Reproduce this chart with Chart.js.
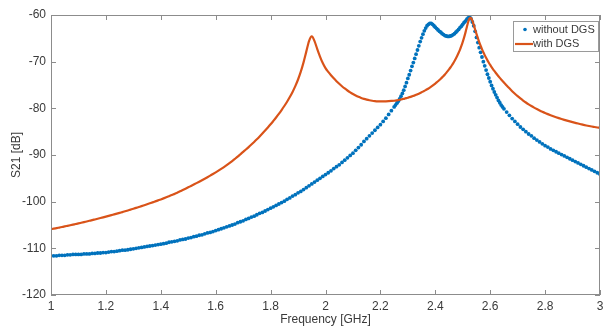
<!DOCTYPE html>
<html>
<head>
<meta charset="utf-8">
<style>
  html, body { margin: 0; padding: 0; background: #fff; }
  #wrap { width: 604px; height: 329px; }
</style>
<script src="https://cdn.jsdelivr.net/npm/chart.js@4.4.1/dist/chart.umd.min.js"></script>
</head>
<body>
<div id="wrap"><canvas id="s21Chart"></canvas></div>
<script>
// ==========================
// DATA
// ==========================
// sweep is finer around the two resonances
const freq = [
  1.00,1.01,1.02,1.03,1.04,1.05,1.06,1.07,1.08,1.09,
  1.10,1.11,1.12,1.13,1.14,1.15,1.16,1.17,1.18,1.19,
  1.20,1.21,1.22,1.23,1.24,1.25,1.26,1.27,1.28,1.29,
  1.30,1.31,1.32,1.33,1.34,1.35,1.36,1.37,1.38,1.39,
  1.40,1.41,1.42,1.43,1.44,1.45,1.46,1.47,1.48,1.49,
  1.50,1.51,1.52,1.53,1.54,1.55,1.56,1.57,1.58,1.59,
  1.60,1.61,1.62,1.63,1.64,1.65,1.66,1.67,1.68,1.69,
  1.70,1.71,1.72,1.73,1.74,1.75,1.76,1.77,1.78,1.79,
  1.80,1.81,1.82,1.83,1.84,1.85,1.86,1.87,1.88,1.89,
  1.90,1.91,1.92,1.93,1.94,1.95,1.96,1.97,1.98,1.99,
  2.00,2.01,2.02,2.03,2.04,2.05,2.06,2.07,2.08,2.09,
  2.10,2.11,2.12,2.13,2.14,2.15,2.16,2.17,2.18,2.19,
  2.20,2.21,2.22,2.23,2.24,
  2.250,2.255,2.260,2.265,2.270,2.275,2.280,2.285,2.290,2.295,
  2.300,2.305,2.310,2.315,2.320,2.325,2.330,2.335,2.340,2.345,
  2.350,2.355,2.360,2.365,2.370,2.375,2.380,2.385,2.390,2.395,
  2.400,2.405,2.410,2.415,2.420,2.425,2.430,2.435,2.440,2.445,
  2.450,2.455,2.460,2.465,2.470,2.475,2.480,2.485,2.490,2.495,
  2.500,2.505,2.510,2.515,2.520,2.525,2.530,2.535,2.540,2.545,
  2.550,2.555,2.560,2.565,2.570,2.575,2.580,2.585,2.590,2.595,
  2.600,2.605,2.610,2.615,2.620,2.625,2.630,2.635,2.640,2.645,
  2.650,
  2.66,2.67,2.68,2.69,
  2.70,2.71,2.72,2.73,2.74,2.75,2.76,2.77,2.78,2.79,
  2.80,2.81,2.82,2.83,2.84,2.85,2.86,2.87,2.88,2.89,
  2.90,2.91,2.92,2.93,2.94,2.95,2.96,2.97,2.98,2.99,
  3.00
];

// S21 [dB] without DGS
const withoutDGS = [
  -111.6,-111.6,-111.6,-111.5,-111.5,-111.5,-111.4,-111.4,-111.3,-111.3,
  -111.3,-111.3,-111.2,-111.2,-111.2,-111.1,-111.1,-111.0,-111.0,-110.9,
  -110.9,-110.8,-110.7,-110.7,-110.6,-110.5,-110.4,-110.4,-110.3,-110.2,
  -110.1,-110.0,-109.9,-109.8,-109.7,-109.6,-109.5,-109.4,-109.3,-109.2,
  -109.1,-109.0,-108.9,-108.7,-108.6,-108.5,-108.4,-108.2,-108.1,-108.0,
  -107.8,-107.7,-107.5,-107.4,-107.2,-107.1,-106.9,-106.7,-106.6,-106.4,
  -106.2,-106.0,-105.8,-105.6,-105.4,-105.2,-105.0,-104.8,-104.5,-104.3,
  -104.1,-103.8,-103.6,-103.3,-103.1,-102.8,-102.5,-102.3,-102.0,-101.7,
  -101.4,-101.1,-100.8,-100.5,-100.2,-99.9,-99.5,-99.2,-98.8,-98.5,
  -98.1,-97.8,-97.4,-97.0,-96.6,-96.2,-95.8,-95.4,-95.0,-94.6,
  -94.2,-93.8,-93.4,-92.9,-92.5,-92.1,-91.6,-91.1,-90.6,-90.1,
  -89.6,-89.0,-88.4,-87.8,-87.1,-86.5,-85.9,-85.3,-84.7,-84.1,
  -83.5,-82.8,-82.1,-81.3,-80.5,
  -79.7,-79.3,-78.9,-78.5,-78.0,-77.4,-76.8,-76.1,-75.3,-74.5,
  -73.6,-72.8,-71.9,-71.0,-70.2,-69.3,-68.4,-67.5,-66.6,-65.7,
  -64.9,-64.1,-63.4,-62.8,-62.3,-62.0,-61.8,-61.8,-62.0,-62.3,
  -62.6,-62.9,-63.2,-63.5,-63.7,-64.0,-64.2,-64.4,-64.5,-64.6,
  -64.6,-64.5,-64.4,-64.2,-64.0,-63.7,-63.4,-63.1,-62.7,-62.4,
  -62.0,-61.6,-61.3,-60.9,-60.6,-60.4,-60.8,-61.5,-62.3,-63.5,
  -64.8,-65.9,-67.0,-68.0,-69.0,-70.0,-70.9,-71.8,-72.7,-73.5,
  -74.3,-75.1,-75.8,-76.5,-77.1,-77.7,-78.3,-78.8,-79.3,-79.7,
  -80.1,
  -80.8,-81.5,-82.2,-82.8,
  -83.4,-84.0,-84.5,-85.0,-85.5,-85.9,-86.4,-86.8,-87.2,-87.6,
  -88.0,-88.3,-88.7,-89.0,-89.3,-89.6,-89.9,-90.2,-90.5,-90.8,
  -91.1,-91.4,-91.7,-92.0,-92.3,-92.6,-92.9,-93.2,-93.5,-93.8,
  -94.1
];

// S21 [dB] with DGS
const withDGS = [
  -105.90,-105.79,-105.67,-105.55,-105.43,-105.31,-105.18,-105.05,-104.92,-104.79,
  -104.66,-104.52,-104.38,-104.24,-104.10,-103.96,-103.81,-103.66,-103.51,-103.36,
  -103.21,-103.05,-102.89,-102.73,-102.57,-102.40,-102.23,-102.06,-101.88,-101.70,
  -101.52,-101.33,-101.14,-100.95,-100.75,-100.55,-100.35,-100.15,-99.94,-99.73,
  -99.52,-99.30,-99.07,-98.83,-98.59,-98.33,-98.07,-97.79,-97.51,-97.22,
  -96.92,-96.63,-96.33,-96.03,-95.72,-95.40,-95.08,-94.75,-94.41,-94.07,
  -93.72,-93.36,-92.98,-92.59,-92.18,-91.75,-91.30,-90.83,-90.35,-89.84,
  -89.32,-88.82,-88.30,-87.76,-87.20,-86.62,-86.02,-85.40,-84.76,-84.10,
  -83.42,-82.70,-81.96,-81.18,-80.36,-79.50,-78.58,-77.58,-76.48,-75.24,
  -73.82,-72.15,-70.15,-67.85,-65.60,-64.60,-65.60,-67.30,-68.90,-70.30,
  -71.40,-72.20,-72.92,-73.58,-74.18,-74.74,-75.26,-75.74,-76.18,-76.58,
  -76.94,-77.26,-77.54,-77.78,-77.98,-78.14,-78.27,-78.37,-78.44,-78.49,
  -78.51,-78.51,-78.49,-78.46,-78.42,
  -78.37,-78.33,-78.28,-78.23,-78.17,-78.10,-78.03,-77.96,-77.88,-77.80,
  -77.72,-77.63,-77.54,-77.44,-77.33,-77.22,-77.10,-76.98,-76.85,-76.71,
  -76.57,-76.42,-76.26,-76.09,-75.92,-75.74,-75.55,-75.35,-75.14,-74.92,
  -74.69,-74.45,-74.20,-73.94,-73.66,-73.37,-73.06,-72.74,-72.40,-72.04,
  -71.66,-71.25,-70.82,-70.36,-69.86,-69.32,-68.74,-68.10,-67.40,-66.62,
  -65.76,-64.80,-63.72,-62.55,-61.45,-60.75,-60.60,-61.20,-62.10,-63.10,
  -64.05,-64.95,-65.80,-66.58,-67.30,-67.98,-68.60,-69.18,-69.72,-70.22,
  -70.70,-71.15,-71.58,-71.99,-72.38,-72.76,-73.12,-73.47,-73.81,-74.14,
  -74.46,
  -75.10,-75.72,-76.32,-76.88,
  -77.40,-77.88,-78.33,-78.75,-79.14,-79.50,-79.84,-80.16,-80.46,-80.74,
  -81.00,-81.24,-81.47,-81.69,-81.90,-82.10,-82.29,-82.47,-82.64,-82.80,
  -82.96,-83.11,-83.26,-83.40,-83.54,-83.67,-83.79,-83.90,-84.00,-84.10,
  -84.20
];

const xTicks = [1, 1.2, 1.4, 1.6, 1.8, 2, 2.2, 2.4, 2.6, 2.8, 3];
const yTicks = [-120, -110, -100, -90, -80, -70, -60];
const seriesNames = ["without DGS", "with DGS"];

const blue = "#0072BD";
const orange = "#D95319";
const textColor = "#3a3a3a";
const axisColor = "#8c8c8c";
const fontFamily = "'Liberation Sans', Arial, sans-serif";

// ==========================
// BOX, INWARD TICKS, LEGEND
// ==========================
const matlabAxes = {
  id: "matlabAxes",
  afterDatasetsDraw(chart){
    const {ctx, chartArea:{left, right, top, bottom}, scales:{x, y}} = chart;
    ctx.save();
    ctx.strokeStyle = axisColor;
    ctx.lineWidth = 1;
    ctx.strokeRect(left + 0.5, top + 0.5, right - left - 1, bottom - top - 1);

    const len = 5;
    ctx.beginPath();
    xTicks.forEach(v => {
      const px = Math.round(x.getPixelForValue(v)) + 0.5;
      ctx.moveTo(px, bottom); ctx.lineTo(px, bottom - len);
      ctx.moveTo(px, top); ctx.lineTo(px, top + len);
    });
    yTicks.forEach(v => {
      const py = Math.round(y.getPixelForValue(v)) + 0.5;
      ctx.moveTo(left, py); ctx.lineTo(left + len, py);
      ctx.moveTo(right, py); ctx.lineTo(right - len, py);
    });
    ctx.stroke();

    // legend box (top right, inside axes)
    const bx = 513, by = 21, bw = 85, bh = 30;
    ctx.fillStyle = "#fff";
    ctx.fillRect(bx, by, bw, bh);
    ctx.strokeStyle = "#9a9a9a";
    ctx.strokeRect(bx + 0.5, by + 0.5, bw, bh);

    ctx.fillStyle = blue;
    ctx.beginPath();
    ctx.arc(525, 29.5, 1.8, 0, Math.PI * 2);
    ctx.fill();

    ctx.strokeStyle = orange;
    ctx.lineWidth = 2.2;
    ctx.beginPath();
    ctx.moveTo(515, 44); ctx.lineTo(533, 44);
    ctx.stroke();

    ctx.fillStyle = textColor;
    ctx.font = "11px " + fontFamily;
    ctx.textBaseline = "middle";
    ctx.textAlign = "left";
    ctx.fillText(seriesNames[0], 533, 30);
    ctx.fillText(seriesNames[1], 533, 44);
    ctx.restore();
  }
};

// ==========================
// CHART
// ==========================
new Chart(document.getElementById("s21Chart"), {
  type: "scatter",
  data: {
    datasets: [
      {
        label: seriesNames[0],
        data: freq.map((f, i) => ({x: f, y: withoutDGS[i]})),
        showLine: false,
        pointRadius: 1.9,
        pointBorderWidth: 0,
        pointBackgroundColor: blue,
        order: 2
      },
      {
        label: seriesNames[1],
        data: freq.map((f, i) => ({x: f, y: withDGS[i]})),
        showLine: true,
        borderColor: orange,
        borderWidth: 2.2,
        pointRadius: 0,
        cubicInterpolationMode: "monotone",
        order: 1
      }
    ]
  },
  options: {
    responsive: true,
    maintainAspectRatio: false,
    animation: false,
    devicePixelRatio: 1,
    layout: {padding: {top: 15, right: 3, left: 0, bottom: 0}},
    plugins: {legend: {display: false}, tooltip: {enabled: false}},
    scales: {
      x: {
        type: "linear",
        min: 1, max: 3,
        afterBuildTicks: s => { s.ticks = xTicks.map(v => ({value: v})); },
        afterFit: s => { s.height = 34; s.paddingLeft = 0; s.paddingRight = 0; },
        grid: {display: false, drawTicks: false},
        border: {display: false},
        ticks: {
          color: textColor,
          font: {family: fontFamily, size: 12},
          padding: 4,
          maxRotation: 0,
          autoSkip: false,
          callback: v => String(+v.toFixed(1))
        },
        title: {
          display: true,
          text: "Frequency [GHz]",
          color: textColor,
          font: {family: fontFamily, size: 12},
          padding: {top: 0, bottom: 2}
        }
      },
      y: {
        min: -120, max: -60,
        afterBuildTicks: s => { s.ticks = yTicks.map(v => ({value: v})); },
        afterFit: s => { s.width = 51; },
        grid: {display: false, drawTicks: false},
        border: {display: false},
        ticks: {
          color: textColor,
          font: {family: fontFamily, size: 12},
          padding: 5
        },
        title: {
          display: true,
          text: "S21 [dB]",
          color: textColor,
          font: {family: fontFamily, size: 12},
          padding: {top: 9, bottom: 0}
        }
      }
    }
  },
  plugins: [matlabAxes]
});
</script>
</body>
</html>
